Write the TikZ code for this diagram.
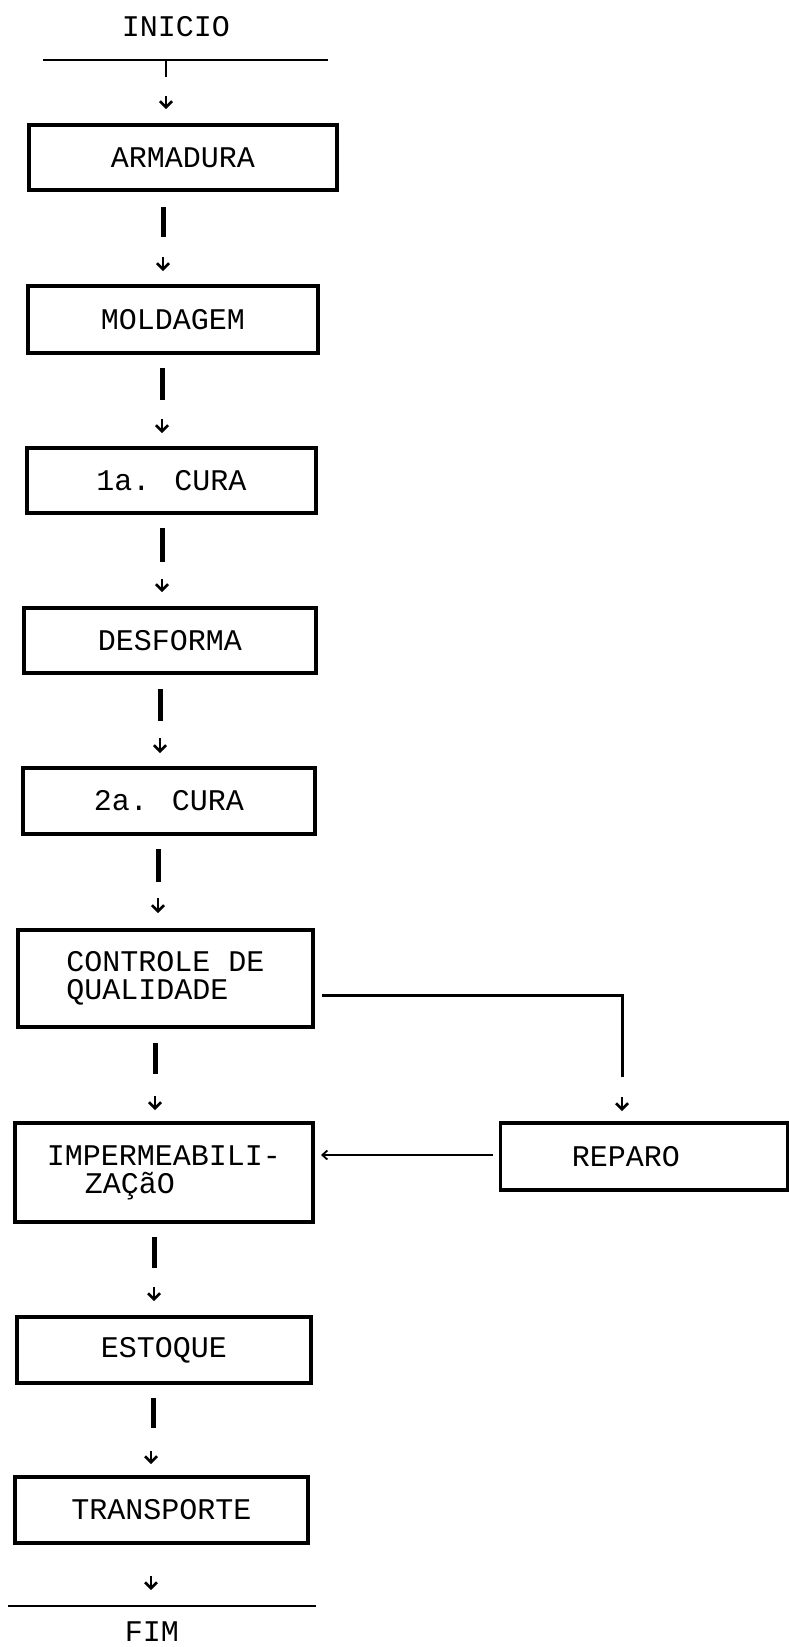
\documentclass[tikz,border=0pt]{standalone}
\usepackage{fontspec}
\newfontfamily\typew{Liberation Mono}
\usetikzlibrary{arrows.meta}
\begin{document}
\begin{tikzpicture}[x=1pt,y=-1pt,
  box/.style={draw,line width=3.6pt,inner sep=0pt,font=\typew\fontsize{30}{28}\selectfont},
  lbl/.style={inner sep=0pt,font=\typew\fontsize{30}{28}\selectfont},
  bar/.style={line width=5pt},
  rule/.style={line width=2pt},
  conn/.style={line width=3pt},
  arr/.style={line width=2.5pt,-{Straight Barb[length=6pt,width=12pt,line width=2.5pt]}},
  harr/.style={line width=1.8pt,-{Straight Barb[length=5pt,width=9pt,line width=1.8pt]}}]
\useasboundingbox (0,0) rectangle (789,1647);

% start / end
\node[lbl] (ini) at (176,27) {INICIO};
\coordinate (tl) at (43,60);
\coordinate (tr) at (328,60);
\draw[rule] (tl) -- (tr);
\node[lbl] (fim) at (152,1632) {FIM};
\coordinate (bl) at (8,1606);
\coordinate (br) at (316,1606);
\draw[rule] (bl) -- (br);

% boxes
\node[box,minimum width=308,minimum height=65] (arm) at (183,157.5) {ARMADURA};
\node[box,minimum width=290,minimum height=67] (mol) at (173,319.5) {MOLDAGEM};
\node[box,minimum width=289,minimum height=65] (cu1) at (171.5,480.5) {1a. CURA};
\node[box,minimum width=292,minimum height=65] (des) at (170,640.5) {DESFORMA};
\node[box,minimum width=292,minimum height=66] (cu2) at (169,801) {2a. CURA};
\node[box,minimum width=295,minimum height=97,align=left] (ctl) at (165.5,978.5) {CONTROLE DE\\QUALIDADE};
\node[box,minimum width=298,minimum height=99,align=left] (imp) at (164,1172.5) {IMPERMEABILI-\\\hspace*{38pt}ZAÇãO\hspace*{0pt}};
\node[box,minimum width=287,minimum height=67] (rep) at (644,1156.5) {REPARO\hspace*{36pt}};
\node[box,minimum width=294,minimum height=66] (est) at (164,1350) {ESTOQUE};
\node[box,minimum width=293,minimum height=66] (tra) at (161.5,1510) {TRANSPORTE};

% start tick and arrow
\draw[rule] (166,60) -- (166,77);
\draw[arr] (166,96) -- (166,109);

% broken connectors between the boxes: bar, then small arrow
\foreach \x/\ya/\yb/\xc/\yc/\yd in {
  163/207/237/163/257/271,
  162/368/400/162/419/433,
  162/528/562/162/579/592,
  160/689/721/160/738/753,
  158/849/882/158/898/913,
  155/1043/1074/155/1096/1110,
  154/1237/1268/154/1287/1301,
  153/1398/1428/151/1451/1464}
{
  \draw[bar] (\x,\ya) -- (\x,\yb);
  \draw[arr] (\xc,\yc) -- (\xc,\yd);
}
\draw[arr] (151,1576) -- (151,1590);

% branch to REPARO
\coordinate (c1) at (322,995);
\coordinate (c2) at (622,995);
\coordinate (c3) at (622,1077);
\draw[conn] (c1) -- (c2) -- (c3);
\draw[arr] (622,1097) -- (622,1111);

% REPARO back to IMPERMEABILIZACAO
\coordinate (h1) at (493,1155);
\coordinate (h2) at (321,1155);
\draw[harr] (h1) -- (h2);
\end{tikzpicture}
\end{document}
